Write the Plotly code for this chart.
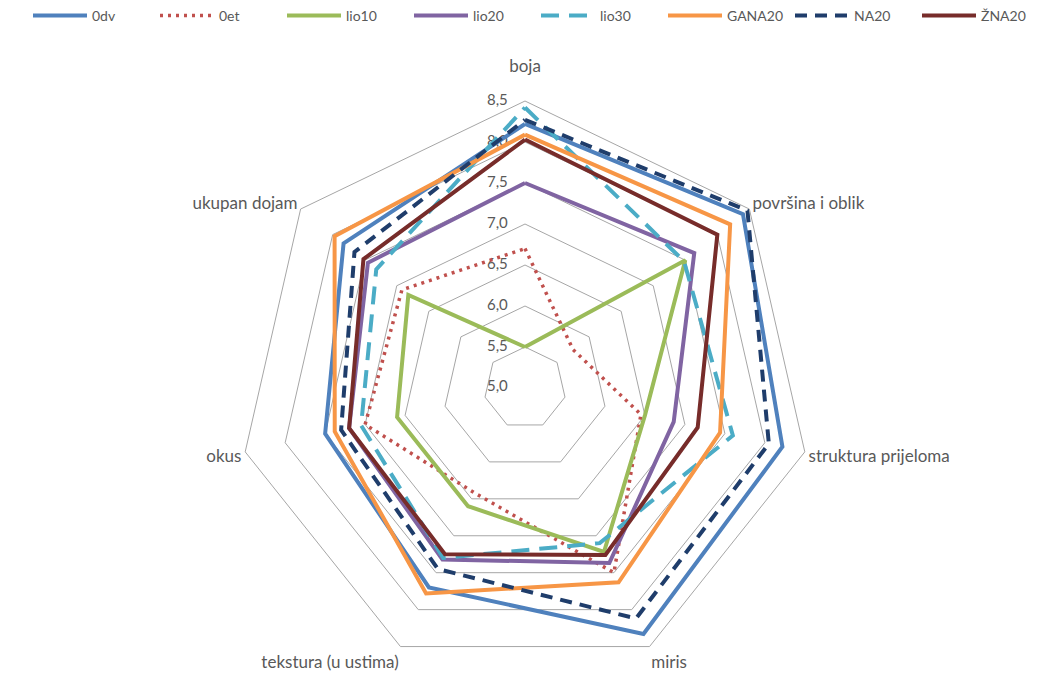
import plotly.graph_objects as go

categories = ["boja", "površina i oblik", "struktura prijeloma", "miris",
              "tekstura (u ustima)", "okus", "ukupan dojam"]
category_labels = ["boja<br>\u00a0", "površina i oblik", "struktura prijeloma", "miris",
                   "tekstura (u ustima)", "okus", "ukupan dojam"]

s_0dv   = [8.22, 8.40, 8.22, 8.33, 7.70, 7.50, 7.83]
s_0et   = [6.70, 5.75, 6.45, 7.50, 6.42, 7.00, 6.92]
s_lio10 = [5.50, 7.50, 6.50, 7.22, 6.60, 6.60, 6.82]
s_lio20 = [7.50, 7.64, 6.86, 7.37, 7.32, 7.20, 7.45]
s_lio30 = [8.42, 7.48, 7.60, 7.10, 7.30, 7.05, 7.32]
s_gana20 = [8.09, 8.20, 7.44, 7.63, 7.78, 7.38, 7.97]
s_na20  = [8.27, 8.47, 8.05, 8.12, 7.45, 7.30, 7.66]
s_zna20 = [8.03, 8.00, 7.16, 7.26, 7.25, 7.20, 7.52]

radial_ticks = [5.0, 5.5, 6.0, 6.5, 7.0, 7.5, 8.0, 8.5]
radial_labels = ["5,0", "5,5", "6,0", "6,5", "7,0", "7,5", "8,0", "8,5"]

series = [
    ("0dv", s_0dv, "#4F81BD", "solid", 4),
    ("0et", s_0et, "#C0504D", "3px,5px", 3.5),
    ("lio10", s_lio10, "#9BBB59", "solid", 4),
    ("lio20", s_lio20, "#8064A2", "solid", 4),
    ("lio30", s_lio30, "#4BACC6", "18px,10px", 4),
    ("GANA20", s_gana20, "#F79646", "solid", 4),
    ("NA20", s_na20, "#1F3D6B", "12px,8px", 4),
    ("ŽNA20", s_zna20, "#772C2A", "solid", 4),
]

fig = go.Figure()

# radial value labels placed left of the vertical (boja) axis;
# the innermost one sits a hair above the range minimum so it is drawn
label_r = [max(v, 5.005) for v in radial_ticks]
fig.add_trace(go.Scatterpolar(
    r=label_r,
    theta=[categories[0]] * len(radial_ticks),
    mode="markers+text",
    text=radial_labels,
    textposition="middle left",
    marker=dict(size=26, color="rgba(0,0,0,0)"),
    textfont=dict(size=15, color="#595959", family="Lato, Open Sans, sans-serif"),
    cliponaxis=False,
    showlegend=False,
    hoverinfo="skip",
))

for name, vals, color, dash, w in series:
    fig.add_trace(go.Scatterpolar(
        r=vals + vals[:1],
        theta=categories + categories[:1],
        mode="lines",
        name=name,
        line=dict(color=color, width=w, dash=dash),
    ))

R = 287
cx, cy = 517, 380
W, H = 1056, 675

fig.update_layout(
    width=W, height=H,
    margin=dict(l=0, r=0, t=0, b=0, autoexpand=False),
    paper_bgcolor="white",
    separators=", ",
    font=dict(family="Lato, Open Sans, sans-serif", size=15, color="#595959"),
    legend=dict(orientation="h", x=0.5, xanchor="center", y=1.012, yanchor="top",
                entrywidth=58, entrywidthmode="pixels", itemwidth=54,
                font=dict(size=14, color="#595959")),
    polar=dict(
        domain=dict(x=[(cx - R) / W, (cx + R) / W], y=[(H - cy - R) / H, (H - cy + R) / H]),
        bgcolor="white",
        gridshape="linear",
        radialaxis=dict(range=[5, 8.5], tickvals=radial_ticks, showticklabels=False,
                        angle=90, showline=False, ticks="",
                        gridcolor="#A6A6A6", gridwidth=1),
        angularaxis=dict(rotation=90, direction="clockwise", showgrid=False,
                         tickmode="array", tickvals=categories, ticktext=category_labels,
                         showline=True, linecolor="#A6A6A6", linewidth=1, ticks="",
                         tickfont=dict(size=17, color="#595959")),
    ),
)

fig.write_html("out.html")
